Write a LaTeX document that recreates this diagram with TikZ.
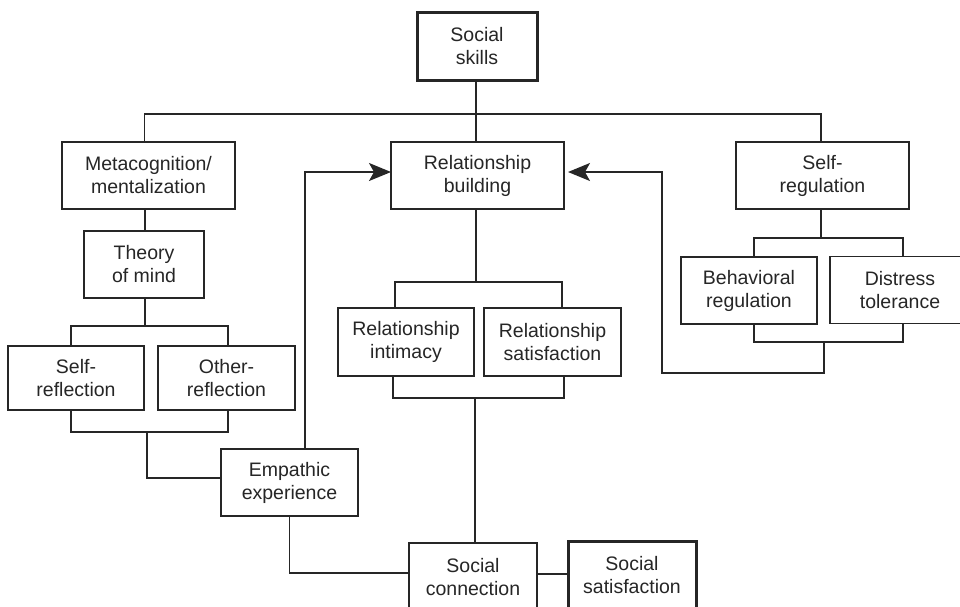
\documentclass[tikz,border=0pt]{standalone}
\usepackage{fontspec}
\setmainfont{Liberation Sans}
\usetikzlibrary{arrows.meta}
\definecolor{ink}{HTML}{262626}
\begin{document}
\begin{tikzpicture}[x=1pt,y=-1pt,
  box/.style={draw=ink, line width=1.5pt, fill=white, inner sep=0pt, outer sep=0pt,
    align=center, text=ink, font=\fontsize{19.5}{23}\selectfont},
  thickbox/.style={box, line width=3pt},
  link/.style={draw=ink, line width=1.6pt},
  arr/.style={link, -{Stealth[length=22pt,width=18pt,inset=5pt]}}]
\useasboundingbox (0,0) rectangle (960,606);
\clip (0,0) rectangle (960,606);

% top level
\node[thickbox, minimum width=120pt, minimum height=68pt] (skills) at (477,46.5) {Social\\skills};

% second level
\node[box, minimum width=173pt, minimum height=67pt] (meta) at (148.5,175.5) {Metacognition/\\mentalization};
\node[box, minimum width=173pt, minimum height=67pt] (rb) at (477.5,175.5) {Relationship\\building};
\node[box, minimum width=173pt, minimum height=67pt] (selfreg) at (822.5,175.5) {Self-\\regulation};

% left branch
\node[box, minimum width=120pt, minimum height=67pt] (tom) at (144,264.5) {Theory\\of mind};
\node[box, minimum width=136pt, minimum height=64pt] (selfref) at (76,378) {Self-\\reflection};
\node[box, minimum width=137pt, minimum height=64pt] (otherref) at (226.5,378) {Other-\\reflection};
\node[box, minimum width=137pt, minimum height=67pt] (emp) at (289.5,482.5) {Empathic\\experience};

% middle branch
\node[box, minimum width=136pt, minimum height=68pt] (intim) at (406,342) {Relationship\\intimacy};
\node[box, minimum width=137pt, minimum height=68pt] (rsat) at (552.5,342) {Relationship\\satisfaction};

% right branch
\node[box, minimum width=136pt, minimum height=67pt] (beh) at (749,290.5) {Behavioral\\regulation};
\node[box, minimum width=140pt, minimum height=67pt] (dist) at (900,290) {Distress\\tolerance};

% bottom
\node[box, minimum width=128pt, minimum height=68pt] (conn) at (473,577) {Social\\connection};
\node[thickbox, minimum width=128pt, minimum height=68pt] (ssat) at (632,575) {Social\\satisfaction};

% bracket junctions
\coordinate (trunk) at (476,114);
\coordinate (tomfork) at (145,326);
\coordinate (refljoin) at (147,432);
\coordinate (rbfork) at (476,282);
\coordinate (reljoin) at (475,398);
\coordinate (srfork) at (821,238);
\coordinate (srjoin) at (824,342);
\coordinate (srbend) at (662,373);

% hierarchy lines
\draw[link] (skills.south -| trunk) -- (trunk |- rb.north);
\draw[link] ([xshift=-4pt]meta.north) |- (trunk) -| ([xshift=-1.5pt]selfreg.north);
\draw[link] (tomfork |- meta.south) -- (tomfork |- tom.north);
\draw[link] (tomfork |- tom.south) -- (tomfork);
\draw[link] ([xshift=-5pt]selfref.north) |- (tomfork) -| ([xshift=1.5pt]otherref.north);
\draw[link] ([xshift=-5pt]selfref.south) |- (refljoin) -| ([xshift=1.5pt]otherref.south);
\draw[link] (refljoin) |- ([yshift=4.5pt]emp.west);

\draw[link] (rbfork |- rb.south) -- (rbfork);
\draw[link] ([xshift=-11pt]intim.north) |- (rbfork) -| ([xshift=9.5pt]rsat.north);
\draw[link] ([xshift=-13pt]intim.south) |- (reljoin) -| ([xshift=11.5pt]rsat.south);
\draw[link] (reljoin) -- (reljoin |- conn.north);

\draw[link] (srfork |- selfreg.south) -- (srfork);
\draw[link] ([xshift=5pt]beh.north) |- (srfork) -| ([xshift=3pt]dist.north);
\draw[link] ([xshift=5pt]beh.south) |- (srjoin) -| ([xshift=3pt]dist.south);

% feedback arrows into relationship building
\draw[arr] ([xshift=15.5pt]emp.north) |- ([yshift=3.5pt]rb.west);
\draw[arr, shorten >=4pt] (srjoin) |- (srbend) |- ([yshift=3.5pt]rb.east);

% lower links
\draw[link] (emp.south) |- ([yshift=4pt]conn.west);
\draw[link] ([yshift=3pt]conn.east) -- ([yshift=1pt]ssat.west);
\end{tikzpicture}
\end{document}
